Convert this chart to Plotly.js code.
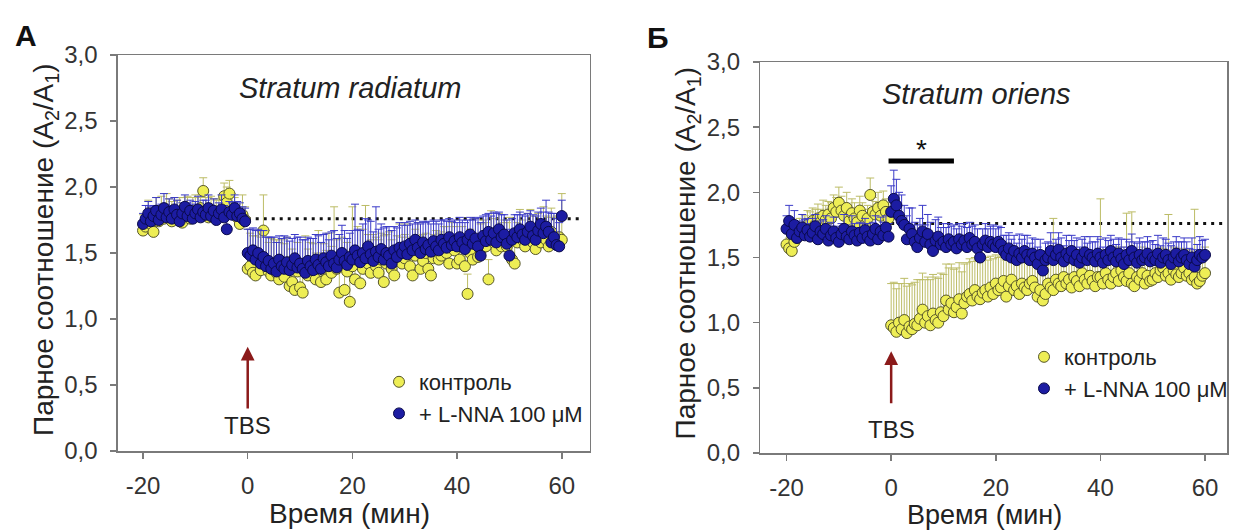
<!DOCTYPE html>
<html><head><meta charset="utf-8">
<script src="https://cdn.plot.ly/plotly-3.0.1.min.js"></script>
<style>html,body{margin:0;padding:0;background:#fff}</style>
</head><body><div id="chart" style="width:1233px;height:531px"></div>
<script>
// time axis: samples every 0.5 min from -20 to 60 min
const timeStart = -20;
const timeStep = 0.5;
const xTicks = [-20, 0, 20, 40, 60];
const xTickLabels = ['-20', '0', '20', '40', '60'];
const yTicks = [0, 0.5, 1, 1.5, 2, 2.5, 3];
const baseline = 1.76;
const tbsTime = 0;
const sigStart = -0.5, sigEnd = 12, sigLevel = 2.24;

const seriesNames = ['контроль', '+ L-NNA 100 μM'];
const panelTitles = ['Stratum radiatum', 'Stratum oriens'];
const panelLetters = ['А', 'Б'];

// Panel A — Stratum radiatum
const ctrlA = [
1.67,1.70,1.75,1.72,1.66,1.78,1.74,1.80,1.76,1.83,
1.79,1.74,1.82,1.77,1.80,1.73,1.78,1.81,1.76,1.79,
1.82,1.78,1.84,1.97,1.80,1.77,1.83,1.79,1.76,1.81,
1.78,1.93,1.88,1.95,1.82,1.80,1.77,1.72,1.79,1.75,
1.38,1.40,1.35,1.33,1.45,1.37,1.67,1.42,1.36,1.33,
1.40,1.35,1.30,1.38,1.32,1.42,1.25,1.28,1.22,1.36,
1.24,1.20,1.38,1.33,1.40,1.35,1.30,1.42,1.28,1.37,
1.30,1.40,1.35,1.45,1.38,1.20,1.42,1.22,1.36,1.13,
1.40,1.30,1.45,1.27,1.38,1.48,1.42,1.35,1.44,1.40,
1.35,1.45,1.28,1.42,1.48,1.38,1.33,1.45,1.50,1.42,
1.46,1.52,1.40,1.33,1.48,1.55,1.38,1.44,1.50,1.38,
1.33,1.46,1.52,1.45,1.48,1.55,1.50,1.42,1.58,1.52,
1.42,1.45,1.55,1.40,1.19,1.50,1.45,1.58,1.47,1.52,
1.60,1.55,1.30,1.62,1.58,1.52,1.65,1.55,1.60,1.55,
1.62,1.45,1.42,1.58,1.65,1.60,1.55,1.62,1.68,1.58,
1.53,1.62,1.58,1.65,1.60,1.55,1.66,1.62,1.58,1.62,
1.60];
const ctrlAErr = [
0.12,0.10,0.15,0.12,0.10,0.14,0.12,0.13,0.10,0.12,
0.12,0.15,0.10,0.13,0.12,0.10,0.14,0.12,0.10,0.13,
0.12,0.14,0.10,0.10,0.12,0.15,0.10,0.12,0.14,0.10,
0.12,0.10,0.12,0.10,0.13,0.12,0.10,0.12,0.15,0.10,
0.30,0.25,0.28,0.30,0.22,0.25,0.27,0.25,0.22,0.28,
0.20,0.25,0.28,0.22,0.25,0.20,0.22,0.25,0.20,0.22,
0.20,0.22,0.25,0.20,0.18,0.22,0.20,0.25,0.22,0.20,
0.22,0.25,0.20,0.40,0.22,0.25,0.20,0.30,0.22,0.25,
0.45,0.22,0.25,0.20,0.30,0.38,0.22,0.25,0.20,0.22,
0.25,0.20,0.35,0.22,0.18,0.22,0.20,0.18,0.22,0.20,
0.18,0.20,0.22,0.18,0.20,0.18,0.25,0.20,0.15,0.22,
0.20,0.18,0.15,0.20,0.18,0.15,0.20,0.22,0.15,0.18,
0.20,0.18,0.15,0.20,0.15,0.18,0.15,0.18,0.15,0.20,
0.15,0.18,0.15,0.20,0.18,0.15,0.15,0.18,0.15,0.18,
0.15,0.18,0.15,0.15,0.18,0.15,0.15,0.18,0.15,0.20,
0.15,0.18,0.15,0.20,0.18,0.22,0.18,0.15,0.20,0.18,
0.35];
const lnnaA = [
1.72,1.76,1.80,1.74,1.78,1.82,1.75,1.79,1.84,1.77,
1.81,1.76,1.83,1.79,1.74,1.80,1.85,1.78,1.82,1.76,
1.80,1.83,1.77,1.81,1.79,1.84,1.78,1.82,1.75,1.80,
1.83,1.77,1.68,1.81,1.79,1.84,1.78,1.80,1.76,1.74,
1.50,1.48,1.52,1.45,1.50,1.42,1.47,1.40,1.44,1.38,
1.42,1.36,1.45,1.40,1.38,1.43,1.37,1.41,1.46,1.39,
1.42,1.38,1.35,1.44,1.40,1.37,1.45,1.41,1.38,1.46,
1.43,1.40,1.48,1.42,1.39,1.45,1.50,1.44,1.41,1.47,
1.45,1.52,1.48,1.43,1.50,1.46,1.55,1.49,1.44,1.51,
1.47,1.53,1.45,1.50,1.48,1.42,1.52,1.47,1.54,1.50,
1.55,1.49,1.57,1.52,1.60,1.54,1.50,1.58,1.53,1.56,
1.51,1.59,1.55,1.52,1.60,1.57,1.54,1.62,1.56,1.59,
1.55,1.62,1.58,1.53,1.60,1.64,1.57,1.61,1.55,1.48,
1.63,1.59,1.66,1.60,1.65,1.58,1.68,1.62,1.64,1.57,
1.48,1.60,1.65,1.62,1.68,1.64,1.60,1.66,1.70,1.63,
1.60,1.67,1.72,1.65,1.70,1.66,1.58,1.62,1.56,1.55,
1.78];
const lnnaAErr = [
0.08,0.10,0.09,0.11,0.08,0.10,0.09,0.08,0.11,0.09,
0.10,0.08,0.09,0.11,0.10,0.08,0.09,0.10,0.08,0.11,
0.09,0.10,0.08,0.09,0.11,0.10,0.08,0.09,0.10,0.08,
0.11,0.09,0.10,0.08,0.09,0.10,0.11,0.08,0.09,0.10,
0.18,0.20,0.17,0.22,0.18,0.25,0.20,0.22,0.18,0.24,
0.20,0.22,0.18,0.21,0.25,0.19,0.22,0.20,0.18,0.23,
0.20,0.22,0.25,0.18,0.21,0.24,0.19,0.22,0.20,0.18,
0.22,0.20,0.18,0.25,0.22,0.19,0.21,0.23,0.20,0.18,
0.22,0.35,0.20,0.24,0.22,0.30,0.20,0.25,0.22,0.34,
0.21,0.19,0.24,0.20,0.22,0.25,0.18,0.22,0.19,0.21,
0.18,0.22,0.17,0.20,0.15,0.19,0.22,0.16,0.20,0.18,
0.21,0.16,0.19,0.20,0.15,0.18,0.20,0.14,0.18,0.16,
0.18,0.15,0.17,0.20,0.15,0.13,0.18,0.15,0.22,0.25,
0.15,0.20,0.14,0.18,0.16,0.22,0.13,0.17,0.15,0.18,
0.20,0.16,0.14,0.17,0.13,0.15,0.18,0.14,0.12,0.16,
0.18,0.14,0.12,0.16,0.20,0.15,0.22,0.18,0.20,0.18,
0.12];

// Panel B — Stratum oriens
const ctrlB = [
1.60,1.57,1.55,1.62,1.65,1.70,1.68,1.72,1.75,1.73,
1.78,1.75,1.80,1.77,1.82,1.79,1.83,1.80,1.88,1.85,
1.92,1.86,1.82,1.88,1.78,1.84,1.80,1.77,1.86,1.82,
1.75,1.80,1.98,1.85,1.83,1.88,1.82,1.90,1.85,1.80,
0.98,0.96,0.93,1.00,0.95,1.02,0.92,0.97,0.95,0.99,
0.98,1.03,1.10,1.00,1.05,0.98,1.07,1.02,1.00,1.08,
1.05,1.17,1.10,1.15,1.08,1.12,1.18,1.07,1.15,1.20,
1.22,1.17,1.25,1.20,1.18,1.23,1.25,1.20,1.27,1.22,
1.30,1.25,1.27,1.32,1.20,1.28,1.33,1.25,1.28,1.22,
1.30,1.27,1.25,1.30,1.32,1.27,1.20,1.25,1.17,1.22,
1.30,1.27,1.25,1.33,1.30,1.28,1.35,1.30,1.33,1.27,
1.35,1.32,1.28,1.38,1.33,1.30,1.36,1.32,1.28,1.35,
1.35,1.30,1.38,1.33,1.30,1.35,1.38,1.32,1.40,1.35,
1.32,1.38,1.30,1.28,1.35,1.33,1.38,1.30,1.36,1.32,
1.33,1.38,1.35,1.40,1.42,1.36,1.38,1.33,1.40,1.37,
1.35,1.38,1.42,1.36,1.38,1.33,1.35,1.30,1.32,1.36,
1.38];
const ctrlBErr = [
0.10,0.08,0.10,0.09,0.11,0.10,0.12,0.10,0.11,0.12,
0.10,0.12,0.11,0.10,0.12,0.11,0.10,0.12,0.10,0.11,
0.12,0.11,0.10,0.12,0.10,0.11,0.12,0.10,0.11,0.10,
0.12,0.10,0.13,0.11,0.10,0.12,0.10,0.11,0.10,0.12,
0.32,0.35,0.33,0.30,0.35,0.32,0.36,0.33,0.34,0.32,
0.35,0.30,0.28,0.33,0.30,0.35,0.30,0.33,0.34,0.30,
0.32,0.28,0.32,0.30,0.33,0.30,0.28,0.32,0.30,0.26,
0.27,0.30,0.25,0.28,0.30,0.26,0.25,0.28,0.24,0.27,
0.22,0.25,0.24,0.20,0.28,0.22,0.20,0.24,0.22,0.26,
0.20,0.22,0.24,0.20,0.18,0.22,0.25,0.20,0.25,0.22,
0.20,0.22,0.55,0.18,0.20,0.22,0.18,0.20,0.18,0.22,
0.18,0.20,0.22,0.18,0.20,0.22,0.18,0.20,0.22,0.18,
0.60,0.22,0.18,0.20,0.22,0.18,0.20,0.22,0.18,0.20,
0.52,0.20,0.55,0.22,0.20,0.18,0.20,0.22,0.18,0.20,
0.20,0.18,0.20,0.18,0.15,0.20,0.45,0.22,0.18,0.20,
0.22,0.18,0.15,0.20,0.18,0.22,0.52,0.20,0.22,0.18,
0.20];
const lnnaB = [
1.72,1.78,1.68,1.75,1.65,1.70,1.73,1.67,1.71,1.66,
1.69,1.74,1.64,1.70,1.68,1.72,1.63,1.67,1.70,1.65,
1.62,1.68,1.72,1.66,1.64,1.70,1.67,1.63,1.69,1.65,
1.71,1.66,1.63,1.68,1.72,1.64,1.70,1.67,1.73,1.66,
1.85,1.95,1.90,1.82,1.78,1.75,1.64,1.72,1.68,1.62,
1.58,1.65,1.70,1.62,1.68,1.60,1.55,1.63,1.66,1.60,
1.62,1.58,1.64,1.60,1.62,1.57,1.64,1.60,1.63,1.58,
1.65,1.60,1.62,1.57,1.50,1.60,1.63,1.58,1.62,1.60,
1.58,1.62,1.60,1.55,1.52,1.57,1.50,1.55,1.48,1.53,
1.50,1.55,1.52,1.48,1.53,1.50,1.45,1.52,1.40,1.48,
1.50,1.55,1.48,1.52,1.56,1.50,1.47,1.53,1.50,1.55,
1.48,1.52,1.46,1.50,1.54,1.48,1.52,1.50,1.47,1.53,
1.50,1.46,1.52,1.48,1.55,1.50,1.47,1.53,1.49,1.45,
1.52,1.48,1.55,1.50,1.46,1.52,1.48,1.50,1.53,1.47,
1.50,1.48,1.53,1.46,1.50,1.52,1.48,1.45,1.50,1.53,
1.47,1.50,1.52,1.48,1.45,1.50,1.43,1.48,1.52,1.50,
1.52];
const lnnaBErr = [
0.10,0.12,0.09,0.11,0.10,0.08,0.10,0.12,0.09,0.10,
0.11,0.09,0.10,0.08,0.11,0.10,0.09,0.10,0.11,0.09,
0.10,0.08,0.11,0.09,0.10,0.12,0.09,0.10,0.08,0.11,
0.09,0.10,0.11,0.09,0.10,0.08,0.11,0.10,0.09,0.10,
0.20,0.22,0.20,0.18,0.20,0.15,0.18,0.16,0.20,0.15,
0.17,0.15,0.20,0.13,0.15,0.17,0.14,0.16,0.15,0.13,
0.14,0.15,0.12,0.14,0.13,0.15,0.12,0.14,0.13,0.15,
0.12,0.14,0.13,0.15,0.14,0.12,0.13,0.14,0.12,0.15,
0.14,0.12,0.13,0.12,0.15,0.12,0.14,0.12,0.13,0.15,
0.14,0.12,0.15,0.13,0.12,0.14,0.13,0.12,0.15,0.13,
0.12,0.14,0.13,0.12,0.13,0.15,0.12,0.14,0.13,0.12,
0.15,0.13,0.12,0.14,0.12,0.13,0.14,0.12,0.15,0.13,
0.14,0.12,0.13,0.15,0.12,0.14,0.13,0.12,0.15,0.13,
0.12,0.14,0.13,0.12,0.15,0.13,0.14,0.12,0.13,0.15,
0.13,0.12,0.14,0.13,0.15,0.12,0.13,0.14,0.12,0.13,
0.15,0.12,0.13,0.14,0.12,0.15,0.13,0.12,0.14,0.13,
0.12];

const FONT = 'Arial, "Liberation Sans", sans-serif';
const yellowFill = '#eeee55', yellowLine = '#55552a', yellowErr = '#bcbc66';
const blueFill = '#1c1ca2', blueLine = '#0a0a4a', blueErr = '#3a3ac8';

function mkTrace(y, err, name, fill, line, errc, xa, ya, leg) {
  return {
    type: 'scatter', mode: 'markers', y: y, x0: timeStart, dx: timeStep,
    xaxis: xa, yaxis: ya, name: name, legend: leg,
    marker: {size: 11, color: fill, line: {color: line, width: 1}},
    error_y: {type: 'data', symmetric: false, array: err, arrayminus: err.map(() => 0),
              color: errc, thickness: 1, width: 4},
    hoverinfo: 'x+y'
  };
}
const data = [
  mkTrace(ctrlA, ctrlAErr, seriesNames[0], yellowFill, yellowLine, yellowErr, 'x', 'y', 'legend'),
  mkTrace(lnnaA, lnnaAErr, seriesNames[1], blueFill, blueLine, blueErr, 'x', 'y', 'legend'),
  mkTrace(ctrlB, ctrlBErr, seriesNames[0], yellowFill, yellowLine, yellowErr, 'x2', 'y2', 'legend2'),
  mkTrace(lnnaB, lnnaBErr, seriesNames[1], blueFill, blueLine, blueErr, 'x2', 'y2', 'legend2')
];

const axisCommon = {
  showline: true, mirror: true, linecolor: '#7a7a7a', linewidth: 1.5,
  ticks: 'outside', ticklen: 6, tickcolor: '#7a7a7a', tickwidth: 1.5,
  showgrid: false, zeroline: false,
  tickfont: {family: FONT, size: 24, color: '#333'}
};
const xa = Object.assign({}, axisCommon, {tickvals: xTicks, ticktext: xTickLabels, ticklabelstandoff: 7});
const ya = Object.assign({}, axisCommon, {tickvals: yTicks, tickformat: '.1f', range: [0, 3], ticklabelstandoff: 8});

const W = 1233, H = 531;
const px = v => v / W, py = v => 1 - v / H;
function note(x, y, text, size, extra) {
  return Object.assign({xref: 'paper', yref: 'paper', x: px(x), y: py(y), xanchor: 'center', yanchor: 'middle',
    text: text, showarrow: false, font: {family: FONT, size: size, color: '#222'}}, extra || {});
}

const layout = {
  width: W, height: H, margin: {l: 0, r: 0, t: 0, b: 0},
  paper_bgcolor: '#fff', plot_bgcolor: '#fff',
  separators: ', ',
  font: {family: FONT, color: '#222'},
  xaxis: Object.assign({}, xa, {domain: [px(118), px(590)], range: [-24.8, 65.3], anchor: 'y'}),
  yaxis: Object.assign({}, ya, {domain: [py(451), py(55)], anchor: 'x'}),
  xaxis2: Object.assign({}, xa, {domain: [px(761), px(1228)], range: [-25, 64.2], anchor: 'y2'}),
  yaxis2: Object.assign({}, ya, {domain: [py(453), py(62)], anchor: 'x2'}),
  legend: {x: px(379), y: py(361), xanchor: 'left', yanchor: 'top', bgcolor: 'rgba(0,0,0,0)',
           font: {family: FONT, size: 22, color: '#222'}, itemwidth: 30, tracegroupgap: 0},
  legend2: {x: px(1025), y: py(336), xanchor: 'left', yanchor: 'top', bgcolor: 'rgba(0,0,0,0)',
           font: {family: FONT, size: 22, color: '#222'}, itemwidth: 30, tracegroupgap: 0},
  shapes: [
    {type: 'line', xref: 'x', yref: 'y', x0: tbsTime, x1: 64, y0: baseline, y1: baseline,
     line: {color: '#111', width: 3, dash: '3px,5px'}, layer: 'below'},
    {type: 'line', xref: 'x2', yref: 'y2', x0: tbsTime, x1: 64.2, y0: baseline, y1: baseline,
     line: {color: '#111', width: 3, dash: '3px,5px'}, layer: 'below'},
    {type: 'line', xref: 'x2', yref: 'y2', x0: sigStart, x1: sigEnd, y0: sigLevel, y1: sigLevel,
     line: {color: '#000', width: 5}}
  ],
  annotations: [
    note(26, 35, '<b>' + panelLetters[0] + '</b>', 30, {font: {family: FONT, size: 30, color: '#111'}}),
    note(659, 37, '<b>' + panelLetters[1] + '</b>', 30, {font: {family: FONT, size: 30, color: '#111'}}),
    note(350, 88, '<i>' + panelTitles[0] + '</i>', 29),
    note(977, 94, '<i>' + panelTitles[1] + '</i>', 29),
    note(45, 250, 'Парное соотношение (A<sub>2</sub>/A<sub>1</sub>)', 28, {textangle: -90}),
    note(688, 253, 'Парное соотношение (A<sub>2</sub>/A<sub>1</sub>)', 28, {textangle: -90}),
    note(350, 513, 'Время (мин)', 28),
    note(985, 515, 'Время (мин)', 27),
    // TBS arrows
    {xref: 'x', yref: 'y', axref: 'x', ayref: 'y', x: tbsTime, y: 0.79, ax: tbsTime, ay: 0.31, text: '',
     showarrow: true, arrowhead: 2, arrowsize: 1.1, arrowwidth: 2.5, arrowcolor: '#8b1a1a'},
    {xref: 'x', yref: 'y', x: tbsTime, y: 0.19, xanchor: 'center', yanchor: 'middle', text: 'TBS', showarrow: false,
     font: {family: FONT, size: 24, color: '#222'}},
    {xref: 'x2', yref: 'y2', axref: 'x2', ayref: 'y2', x: tbsTime, y: 0.78, ax: tbsTime, ay: 0.37, text: '',
     showarrow: true, arrowhead: 2, arrowsize: 1.1, arrowwidth: 2.5, arrowcolor: '#8b1a1a'},
    {xref: 'x2', yref: 'y2', x: tbsTime, y: 0.18, xanchor: 'center', yanchor: 'middle', text: 'TBS', showarrow: false,
     font: {family: FONT, size: 24, color: '#222'}},
    {xref: 'x2', yref: 'y2', x: (sigStart + sigEnd) / 2, y: 2.33, xanchor: 'center', yanchor: 'middle', text: '*', showarrow: false,
     font: {family: FONT, size: 28, color: '#111'}}
  ]
};

Plotly.newPlot('chart', data, layout, {displayModeBar: false, staticPlot: true});
</script>
</body></html>
